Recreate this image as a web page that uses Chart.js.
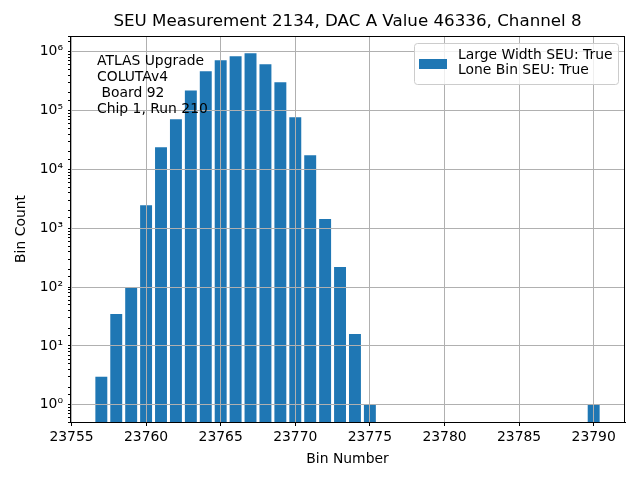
<!DOCTYPE html>
<html>
<head>
<meta charset="utf-8">
<script src="https://cdn.jsdelivr.net/npm/chart.js@4.4.0/dist/chart.umd.min.js"></script>
<style>
  html, body { margin: 0; padding: 0; background: #fff; }
  #wrap { width: 640px; height: 480px; }
</style>
</head>
<body>
<div id="wrap"><canvas id="seuChart" width="640" height="480"></canvas></div>
<script>
const binNumbers = [23757, 23758, 23759, 23760, 23761, 23762, 23763, 23764, 23765, 23766,
  23767, 23768, 23769, 23770, 23771, 23772, 23773, 23774, 23775, 23790];
const binCounts = [3, 35, 100, 2460, 24000, 71600, 221000, 466000, 723000, 845000,
  950000, 617000, 305000, 77000, 17500, 1440, 221, 16, 1, 1];
const xTicks = [23755, 23760, 23765, 23770, 23775, 23780, 23785, 23790];
const titleText = "SEU Measurement 2134, DAC A Value 46336, Channel 8";
const legendLines = ["Large Width SEU: True", "Lone Bin SEU: True"];
const noteLines = ["ATLAS Upgrade", "COLUTAv4", " Board 92", "Chip 1, Run 210"];

const FONT = "'DejaVu Sans', sans-serif";
const BLUE = "#1f77b4";
const sup = {"-": "⁻", "0": "⁰", "1": "¹", "2": "²", "3": "³", "4": "⁴", "5": "⁵", "6": "⁶", "7": "⁷", "8": "⁸", "9": "⁹"};

function isDecade(v) {
  const l = Math.log10(v);
  return Math.abs(l - Math.round(l)) < 1e-9;
}

// grid on top of the bars, like matplotlib, plus frame, title, legend and notes
const extras = {
  id: "extras",
  afterDatasetsDraw(chart) {
    const area = chart.chartArea;
    chart.scales.x.drawGrid(area);
    chart.scales.y.drawGrid(area);
  },
  afterDraw(chart) {
    const ctx = chart.ctx;
    const a = chart.chartArea;
    ctx.save();
    ctx.strokeStyle = "#000";
    ctx.lineWidth = 1;
    ctx.strokeRect(a.left + 0.5, a.top + 0.5, a.right - a.left - 1, a.bottom - a.top);

    // title
    ctx.fillStyle = "#000";
    ctx.font = "16.7px " + FONT;
    ctx.textAlign = "center";
    ctx.textBaseline = "middle";
    ctx.fillText(titleText, (a.left + a.right) / 2, 22);

    // notes
    ctx.font = "13.9px " + FONT;
    ctx.textAlign = "left";
    noteLines.forEach((t, i) => ctx.fillText(t, a.left + 27, a.top + 25 + i * 16));

    // legend
    const lx = a.right - 211, ly = a.top + 7, lw = 204, lh = 41;
    ctx.beginPath();
    ctx.roundRect(lx + 0.5, ly + 0.5, lw, lh, 3);
    ctx.fillStyle = "rgba(255,255,255,0.8)";
    ctx.fill();
    ctx.strokeStyle = "#cccccc";
    ctx.stroke();
    ctx.fillStyle = BLUE;
    ctx.fillRect(lx + 5, ly + 16, 28, 10);
    ctx.fillStyle = "#000";
    legendLines.forEach((t, i) => ctx.fillText(t, lx + 44, ly + 12 + i * 15.5));
    ctx.restore();
  }
};

const ctx = document.getElementById("seuChart").getContext("2d");
const chart = new Chart(ctx, {
  type: "bar",
  data: {
    datasets: [{
      label: legendLines.join(" / "),
      data: binNumbers.map((b, i) => ({x: b, y: binCounts[i]})),
      backgroundColor: BLUE,
      borderWidth: 0,
      barPercentage: 0.8,
      categoryPercentage: 1.0
    }]
  },
  options: {
    responsive: false,
    animation: false,
    devicePixelRatio: 1,
    layout: { padding: { top: 36, right: 15, bottom: 0, left: 0 } },
    plugins: {
      legend: { display: false },
      title: { display: false },
      tooltip: { enabled: false }
    },
    scales: {
      x: {
        type: "linear",
        offset: false,
        min: 23754.9,
        max: 23792.1,
        afterBuildTicks(scale) {
          scale.ticks = xTicks.map(v => ({value: v}));
        },
        afterFit(scale) { scale.height = 58; },
        ticks: {
          color: "#000",
          font: { family: FONT, size: 13.9 },
          padding: 3,
          maxRotation: 0,
          autoSkip: false,
          callback: v => String(v)
        },
        grid: { offset: false, color: "#b0b0b0", lineWidth: 1, tickColor: "#000", tickLength: 4 },
        border: { color: "#000", width: 1 },
        title: {
          display: true,
          text: "Bin Number",
          color: "#000",
          font: { family: FONT, size: 13.9 },
          padding: { top: 2, bottom: 12 }
        }
      },
      y: {
        type: "logarithmic",
        min: 0.51,
        max: 1.86e6,
        afterFit(scale) { scale.width = 70; },
        ticks: {
          color: "#000",
          font: { family: FONT, size: 13.9 },
          padding: 5,
          autoSkip: false,
          callback: v => isDecade(v) ? "10" + String(Math.round(Math.log10(v))).split("").map(c => sup[c]).join("") : ""
        },
        grid: {
          color: c => (c.tick && isDecade(c.tick.value)) ? "#b0b0b0" : "rgba(0,0,0,0)",
          tickColor: "#000",
          lineWidth: 1,
          tickLength: c => (c.tick && isDecade(c.tick.value)) ? 4 : 2
        },
        border: { color: "#000", width: 1 },
        title: {
          display: true,
          text: "Bin Count",
          color: "#000",
          font: { family: FONT, size: 13.9 },
          padding: { top: 13, bottom: 0 }
        }
      }
    }
  },
  plugins: [extras]
});
</script>
</body>
</html>
